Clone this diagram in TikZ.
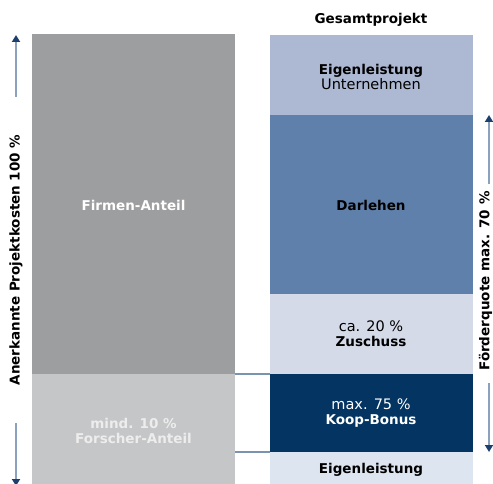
\documentclass[tikz,border=0pt]{standalone}
\usepackage{fontspec}
\setmainfont{DejaVu Sans}
\usetikzlibrary{arrows.meta}
\definecolor{cDarkGray}{HTML}{9D9E9F}
\definecolor{cLightGray}{HTML}{C5C6C8}
\definecolor{cTopBlue}{HTML}{ADB9D3}
\definecolor{cMidBlue}{HTML}{5F80AB}
\definecolor{cPaleBlue}{HTML}{D4DAE8}
\definecolor{cNavy}{HTML}{033462}
\definecolor{cBottom}{HTML}{DCE5F0}
\definecolor{cLine}{HTML}{7A93AE}
\definecolor{cArrow}{HTML}{8AA2BD}
\definecolor{cTip}{HTML}{1C3F6E}
\definecolor{cForscher}{HTML}{EDEDED}
\newcommand{\regtxt}[1]{{\fontsize{14.5}{15}\selectfont #1}}
\begin{document}
\begin{tikzpicture}[x=1pt,y=-1pt,
  blk/.style={draw=none, inner sep=0pt, outer sep=0pt, anchor=north west, minimum width=#1},
  txt/.style={font=\fontsize{13.5}{15}\selectfont, align=center, inner sep=0pt},
  arr/.style={draw=cArrow, line width=2pt, -{Triangle[length=7pt,width=8pt,color=cTip,fill=cTip]}},
  conn/.style={draw=cLine, line width=2pt}]
\useasboundingbox (0,0) rectangle (493,484);
\clip (0,0) rectangle (493,484);
% left bar
\node[blk=203, fill=cDarkGray, minimum height=340] (firmen) at (32,34) {};
\node[blk=203, fill=cLightGray, minimum height=114] (forscher) at (32,374) {};
% right bar
\node[blk=203, fill=cTopBlue, minimum height=80] (eigenU) at (270,35) {};
\node[blk=203, fill=cMidBlue, minimum height=179] (darlehen) at (270,115) {};
\node[blk=203, fill=cPaleBlue, minimum height=80] (zuschuss) at (270,294) {};
\node[blk=203, fill=cNavy, minimum height=78] (koop) at (270,374) {};
\node[blk=203, fill=cBottom, minimum height=36] (eigen) at (270,452) {};
% texts
\node[txt] (title) at (371,20) {\textbf{Gesamtprojekt}};
\node[txt] (tEigenU) at (371,77) {\textbf{Eigenleistung}\\\regtxt{Unternehmen}};
\node[txt] (tDarlehen) at (371,205) {\textbf{Darlehen}};
\node[txt] (tZuschuss) at (371,334) {\regtxt{ca. 20 \%}\\\textbf{Zuschuss}};
\node[txt, text=white] (tKoop) at (371,413) {\regtxt{max. 75 \%}\\\textbf{Koop-Bonus}};
\node[txt] (tEigen) at (371,470) {\textbf{Eigenleistung}};
\node[txt, text=white] (tFirmen) at (133.5,205) {\textbf{Firmen-Anteil}};
\node[txt, text=cForscher] (tForscher) at (133.5,431) {\textbf{mind. 10 \%}\\\textbf{Forscher-Anteil}};
% connectors between bars
\draw[conn] (forscher.north east) -- (koop.north west);
\draw[conn] (forscher.east |- koop.south west) -- (koop.south west);
% left dimension
\coordinate (la1) at (16,97);
\coordinate (la1t) at (16,35);
\coordinate (la2) at (16,423);
\coordinate (la2t) at (16,486);
\draw[arr] (la1) -- (la1t);
\draw[arr] (la2) -- (la2t);
\node[txt, rotate=90] (tLeft) at (16,260) {\textbf{Anerkannte Projektkosten 100 \%}};
% right dimension
\coordinate (ra1) at (489,184);
\coordinate (ra1t) at (489,115);
\coordinate (ra2) at (489,383);
\coordinate (ra2t) at (489,452);
\draw[arr] (ra1) -- (ra1t);
\draw[arr] (ra2) -- (ra2t);
\node[txt, rotate=90] (tRight) at (485.5,281) {\textbf{Förderquote max. 70 \%}};
\end{tikzpicture}
\end{document}
